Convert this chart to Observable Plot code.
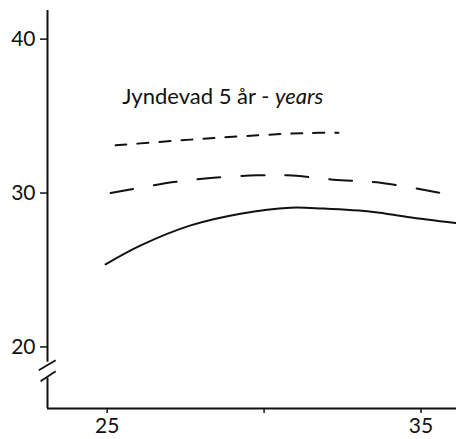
<!DOCTYPE html>
<html>
<head>
<meta charset="utf-8">
<script src="https://cdn.jsdelivr.net/npm/d3@7"></script>
<script src="https://cdn.jsdelivr.net/npm/@observablehq/plot@0.6"></script>
<style>
  html, body { margin: 0; padding: 0; background: #fff; }
  #chart svg { display: block; }
</style>
</head>
<body>
<div id="chart"></div>
<script>
// Age (x) and measured value (y) for the three Jyndevad curves
const solidAge   = [24.95, 26.07, 27.66, 29.25, 30.84, 31.89, 33.49, 34.57, 36.1];
const solidValue = [25.37, 26.6, 27.9, 28.66, 29.05, 28.99, 28.77, 28.44, 28.05];

const longDashAge   = [25.11, 27.12, 28.39, 29.79, 30.75, 32.21, 33.71, 35.84];
const longDashValue = [30.0, 30.71, 31.0, 31.15, 31.15, 30.87, 30.67, 29.92];

const shortDashAge   = [25.27, 27.66, 29.79, 31.39, 32.37];
const shortDashValue = [33.1, 33.47, 33.75, 33.9, 33.92];

const xTicks = [25, 30, 35];
const xTickLabels = ["25", "", "35"];
const yTicks = [20, 30, 40];

const titleText = "Jyndevad 5 år - ";
const titleItalic = "years";

const xDomain = [23.1, 36.13];
const yDomain = [16, 41.86];

// y axis drawn in two pieces around the break
const yAxisPieces = [{y1: 41.86, y2: 19.0}, {y1: 17.97, y2: 16}];
// the two slashes marking the break
const breakSlashes = [
  {x1: 22.82, y1: 18.49, x2: 23.36, y2: 19.14},
  {x1: 22.88, y1: 17.77, x2: 23.36, y2: 18.42}
];

const toRows = (xs, ys) => xs.map((x, i) => ({x, y: ys[i]}));
const font = "Lato, 'Open Sans', sans-serif";

const chart = Plot.plot({
  width: 456,
  height: 439,
  marginLeft: 47,
  marginRight: 0,
  marginTop: 10,
  marginBottom: 31,
  style: {fontFamily: font, fontSize: "20px", color: "#111", background: "#fff"},
  x: {domain: xDomain},
  y: {domain: yDomain},
  marks: [
    Plot.axisY({ticks: yTicks, tickSize: 7, tickPadding: 5, tickFormat: d => String(d),
      fontSize: 21, strokeWidth: 1.5, label: null}),
    Plot.axisX({ticks: xTicks, tickSize: 5, tickPadding: 5,
      tickFormat: (d) => xTickLabels[xTicks.indexOf(d)], fontSize: 21, strokeWidth: 1.5, label: null}),
    Plot.ruleY([yDomain[0]], {stroke: "#111", strokeWidth: 2}),
    Plot.ruleX(yAxisPieces, {x: xDomain[0], y1: "y1", y2: "y2", stroke: "#111", strokeWidth: 2}),
    Plot.link(breakSlashes, {x1: "x1", y1: "y1", x2: "x2", y2: "y2", stroke: "#111", strokeWidth: 1.8}),
    Plot.line(toRows(solidAge, solidValue), {x: "x", y: "y", curve: "catmull-rom",
      stroke: "#111", strokeWidth: 2}),
    Plot.line(toRows(longDashAge, longDashValue), {x: "x", y: "y", curve: "catmull-rom",
      stroke: "#111", strokeWidth: 2, strokeDasharray: "23,21"}),
    Plot.line(toRows(shortDashAge, shortDashValue), {x: "x", y: "y", curve: "catmull-rom",
      stroke: "#111", strokeWidth: 2, strokeDasharray: "11,11"}),
    Plot.text([titleText], {x: 25.48, y: 35.76, text: d => d, textAnchor: "start",
      lineAnchor: "bottom", fontSize: 22, fill: "#111",
      render(index, scales, values, dimensions, context, next) {
        const g = next(index, scales, values, dimensions, context);
        d3.select(g).selectAll("text").each(function () {
          const t = d3.select(this);
          t.attr("xml:space", "preserve");
          t.append("tspan").attr("font-style", "italic").text(titleItalic);
        });
        return g;
      }})
  ]
});

document.getElementById("chart").append(chart);
</script>
</body>
</html>
